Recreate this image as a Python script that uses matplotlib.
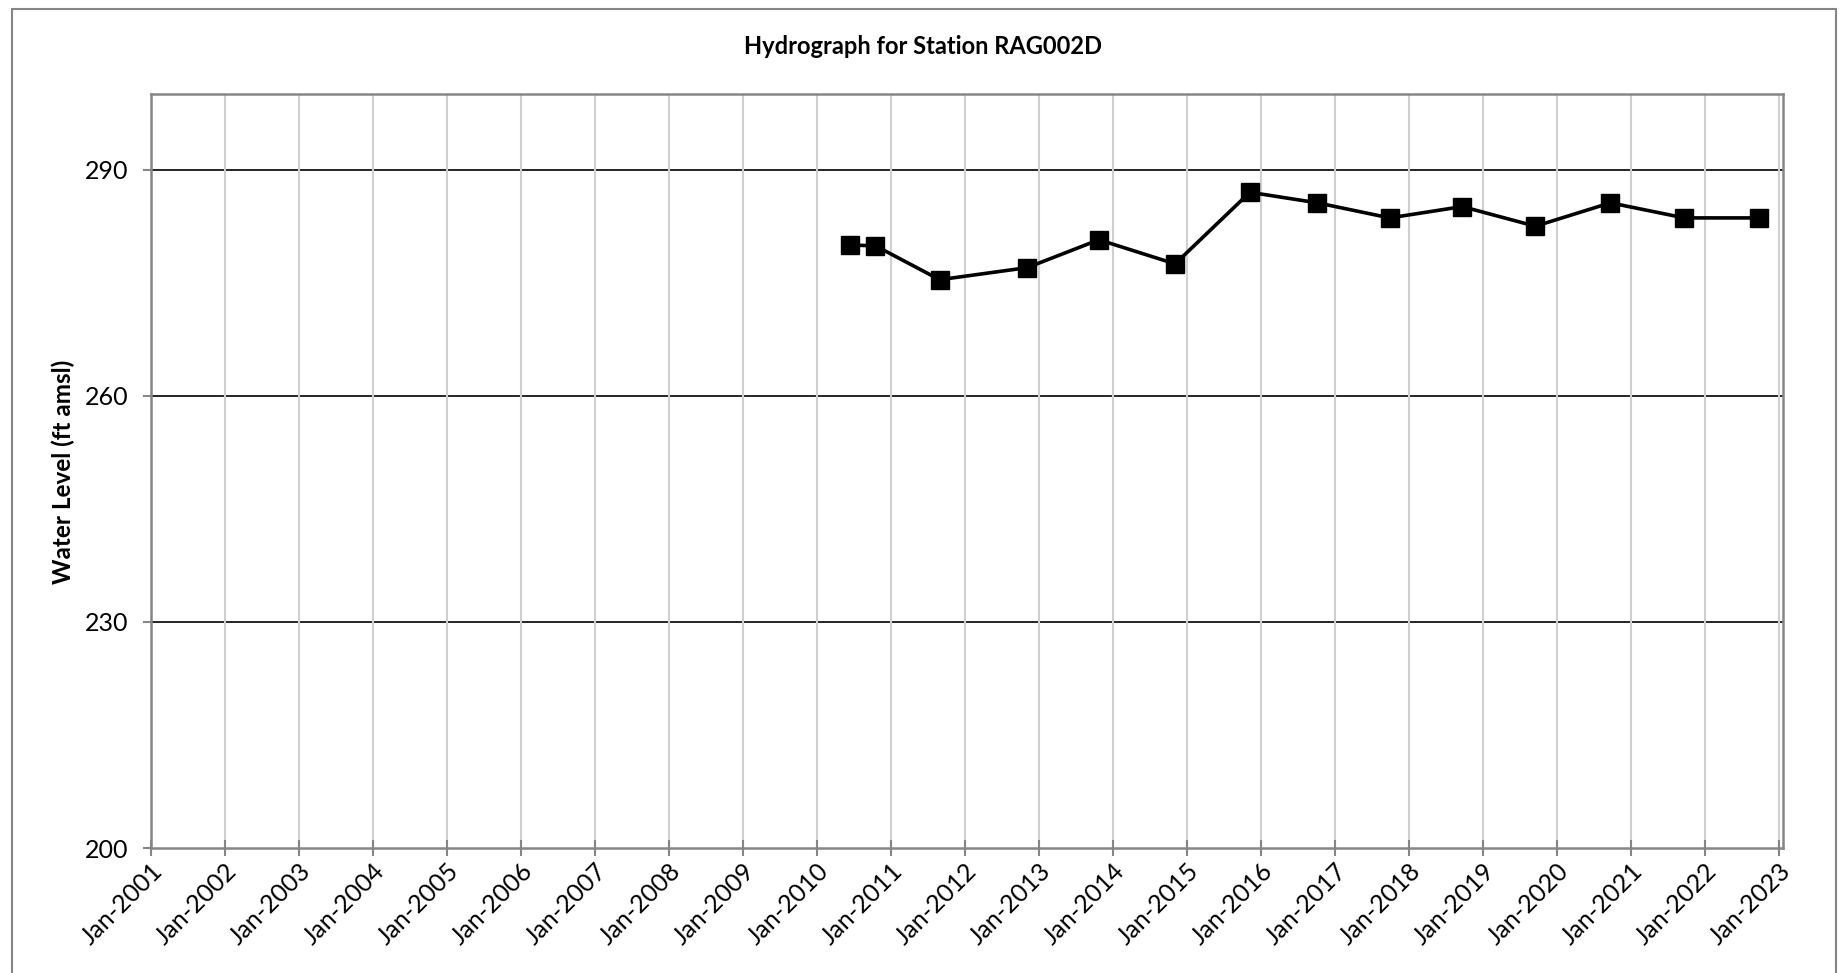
import matplotlib
matplotlib.use("Agg")
import matplotlib.pyplot as plt
import matplotlib.dates as mdates
from matplotlib.patches import Rectangle
import numpy as np
import datetime as dt

plt.rcParams['font.family'] = ['Lato', 'DejaVu Sans']

title = "Hydrograph for Station RAG002D"
y_label = "Water Level (ft amsl)"
dates = ["2010-06-13", "2010-10-16", "2011-08-29", "2012-11-03", "2013-10-23",
         "2014-11-03", "2015-11-07", "2016-10-05", "2017-09-27", "2018-09-20",
         "2019-09-16", "2020-09-20", "2021-09-20", "2022-09-24"]
levels = [280.0, 279.9, 275.4, 277.0, 280.7, 277.5, 287.0, 285.6, 283.6, 285.1,
          282.5, 285.6, 283.6, 283.6]
y_ticks = [200, 230, 260, 290]
tick_years = list(range(2001, 2024))

x = [dt.datetime.strptime(d, "%Y-%m-%d") for d in dates]

fig = plt.figure(figsize=(18.39, 9.73), dpi=100)
fig.patches.append(Rectangle((12/1839, -20/973), (1836-12)/1839, (964+20)/973,
                             transform=fig.transFigure, fill=False,
                             edgecolor='#868686', linewidth=1.5, clip_on=False))
ax = fig.add_axes([151/1839, 1 - 848/973, (1783-151)/1839, (848-94.3)/973])

ax.plot(x, levels, color='black', linewidth=2.6, marker='s', markersize=12.5,
        markerfacecolor='black', markeredgecolor='black', zorder=5, clip_on=False)

ax.set_xlim(dt.datetime(2001, 1, 1), dt.datetime(2023, 1, 20))
ax.set_ylim(200, 300)
ax.set_yticks(y_ticks)
ax.set_xticks([dt.datetime(y, 1, 1) for y in tick_years])
ax.xaxis.set_major_formatter(mdates.DateFormatter("%b-%Y"))

ax.grid(axis='x', color='#d0d0d0', linewidth=1.5, zorder=0)
for yv in y_ticks[1:]:
    ax.axhline(yv, color='black', linewidth=1.2, zorder=1)

for s in ax.spines.values():
    s.set_color('#868686')
    s.set_linewidth(1.8)

ax.tick_params(axis='y', direction='out', length=6, width=1.5, color='#868686',
               labelsize=18, pad=10)
ax.tick_params(axis='x', direction='inout', length=12, width=1.5, color='#868686',
               labelsize=18, pad=2)
for lbl in ax.get_xticklabels():
    lbl.set_rotation(45)
    lbl.set_ha('right')
    lbl.set_rotation_mode('anchor')

fig.text(63/1839, 1 - 472/973, y_label, rotation=90, ha='center', va='center',
         fontsize=17.5, fontweight='bold')
fig.text(923/1839, 1 - 47/973, title, ha='center', va='center', fontsize=17,
         fontweight='bold')

fig.savefig("out.png", dpi=100)
